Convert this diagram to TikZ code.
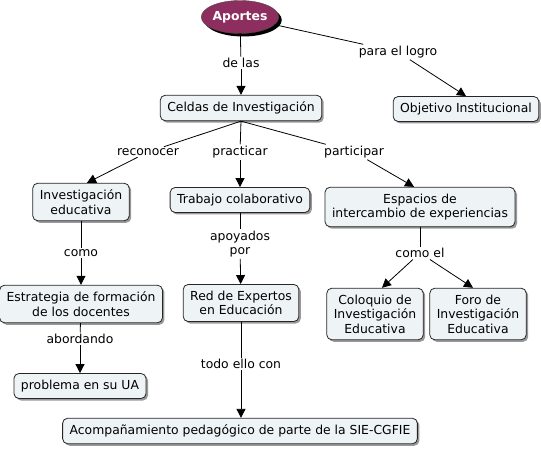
\documentclass[tikz,border=0pt]{standalone}
\usepackage{fontspec}
\setmainfont{DejaVu Sans}
\usetikzlibrary{arrows.meta,shapes.geometric,shadows}
\definecolor{boxfill}{RGB}{238,244,245}
\definecolor{aportes}{RGB}{142,46,94}
\begin{document}
\begin{tikzpicture}[x=1pt,y=-1pt,
  font=\fontsize{12.4}{14.5}\selectfont,
  concept/.style={draw=black!85,fill=boxfill,rounded corners=5pt,align=center,
     inner xsep=7pt,inner ysep=6.5pt,line width=0.8pt,
     drop shadow={shadow xshift=2pt,shadow yshift=-2pt,fill=black!40,opacity=1}},
  phrase/.style={inner sep=1.5pt,align=center},
  conn/.style={line width=0.8pt,black},
  arr/.style={conn,-{Triangle[width=9pt,length=9pt]}}]
\useasboundingbox (0,0) rectangle (541,449);
\node[ellipse,fill=aportes,draw=black!70,text=white,font=\fontsize{12.4}{14.5}\selectfont\bfseries,
  minimum width=72pt,minimum height=33pt,inner sep=0pt,
  drop shadow={shadow xshift=3pt,shadow yshift=-3pt,fill=black,opacity=1}] (ap) at (240,17) {Aportes};
\node[concept] (celdas) at (241,108) {Celdas de Investigación};
\node[concept] (obj) at (466,109) {Objetivo Institucional};
\node[concept] (inved) at (81,202) {Investigación\\educativa};
\node[concept] (trab) at (240,200) {Trabajo colaborativo};
\node[concept] (esp) at (420,207) {Espacios de\\intercambio de experiencias};
\node[concept] (estr) at (81,304) {Estrategia de formación\\de los docentes};
\node[concept] (red) at (241,303) {Red de Expertos\\en Educación};
\node[concept] (colo) at (375,314) {Coloquio de\\Investigación\\Educativa};
\node[concept] (foro) at (478,314) {Foro de\\Investigación\\Educativa};
\node[concept] (prob) at (80,386) {problema en su UA};
\node[concept] (acomp) at (240,431) {Acompañamiento pedagógico de parte de la SIE-CGFIE};

\node[phrase] (delas) at (241,63) {de las};
\node[phrase] (para) at (398,52) {para el logro};
\node[phrase] (rec) at (148,152) {reconocer};
\node[phrase] (prac) at (240,152) {practicar};
\node[phrase] (part) at (354,152) {participar};
\node[phrase] (como) at (81,253) {como};
\node[phrase] (apoy) at (240,244) {apoyados\\por};
\node[phrase] (comoel) at (420,253) {como el};
\node[phrase] (abord) at (80,339) {abordando};
\node[phrase] (todo) at (241,364) {todo ello con};

\draw[conn] (ap) -- (delas);
\draw[arr] (delas) -- (celdas);
\draw[conn] (ap) -- (para);
\draw[arr] (para) -- (obj.north);
\draw[conn] (celdas.south) -- (rec);
\draw[arr] (rec) -- ([xshift=6pt]inved.north);
\draw[conn] (celdas.south) -- (prac);
\draw[arr] (prac) -- (trab);
\draw[conn] (celdas.south) -- (part);
\draw[arr] (part) -- ([xshift=-6pt]esp.north);
\draw[conn] (inved) -- (como);
\draw[arr] (como) -- (estr);
\draw[conn] (trab) -- (apoy);
\draw[arr] (apoy) -- (red);
\draw[conn] (esp) -- (comoel);
\draw[arr] (comoel) -- ([xshift=7pt]colo.north);
\draw[arr] (comoel) -- ([xshift=-5pt]foro.north);
\draw[conn] (estr) -- (abord);
\draw[arr] (abord) -- (prob);
\draw[conn] (red) -- (todo);
\draw[arr] (todo) -- (todo |- acomp.north);
\end{tikzpicture}
\end{document}
